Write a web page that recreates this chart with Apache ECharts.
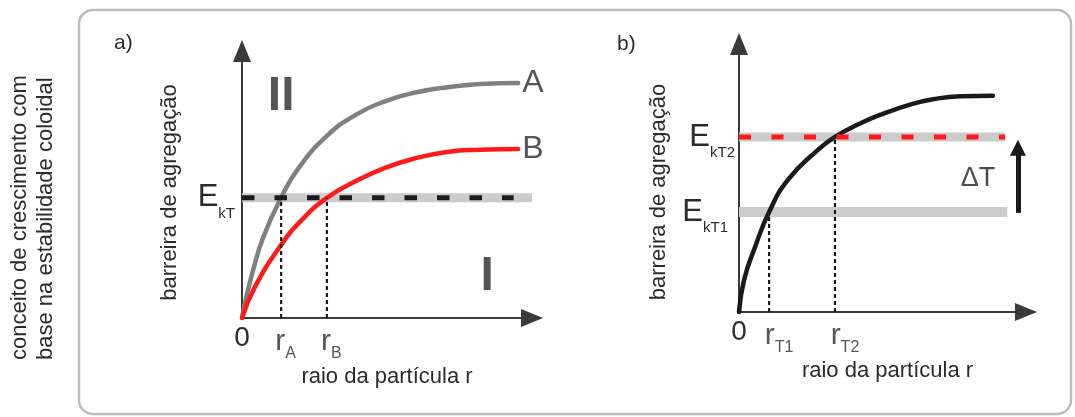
<!DOCTYPE html>
<html>
<head>
<meta charset="utf-8">
<script src="https://cdn.jsdelivr.net/npm/echarts@6/dist/echarts.min.js"></script>
<style>
html,body{margin:0;padding:0;background:#fff;}
#main{width:1075px;height:417px;}
</style>
</head>
<body>
<div id="main"></div>
<script>
// painel a) barreira x raio, curvas A e B
var curveA = [[0,0],[1,5.4],[3.65,17.0],[6.98,28.8],[12.96,43.2],[18.6,53.6],[28.2,65.5],[38.5,73.5],[47.5,77.9],[56.8,80.9],[68.1,83.0],[79.1,84.1],[91.7,84.5]];
var curveB = [[0,0],[4.3,11.2],[13,26.3],[19.9,35.3],[28.2,43.2],[38.5,49.6],[47.5,54.0],[56.8,57.2],[68.1,59.7],[79.1,60.5],[91.7,60.8]];
var eKT = 43.2;
var rA = 13, rB = 28.2;
var aRLabels = [[rA, 0, 'A'], [rB, 0, 'B']];
var aNotes = [[13, 79.5, 'II'], [81.4, 14.7, 'I']];
var aEnds = [[91.7, 84.5, 'A'], [91.7, 60.8, 'B']];

// painel b) uma curva, dois niveis de energia
var curveT = [[0,0],[1.7,11.5],[5.4,23.3],[10.1,35.8],[16.4,47.3],[26.2,57.8],[32.2,62.7],[40.6,67.5],[48.3,71.0],[57.4,74.3],[65.1,76.2],[74.2,77.3],[85.2,77.5]];
var eKT1 = 35.8, eKT2 = 62.7;
var rT1 = 10.1, rT2 = 32.2;
var bRLabels = [[rT1, 0, 'T1'], [rT2, 0, 'T2']];
var dT = [80.2, 47.7, '\u0394T'];
var dTArrow = [93.6, 35.5, 58.8];

var FONT = 'Liberation Sans, Arial, sans-serif';
var INK = '#2b2b2b';

var myChart = echarts.init(document.getElementById('main'));

function seg(xi, pts, color, width, type, z){
	return {
		type:'line', xAxisIndex:xi, yAxisIndex:xi, data:pts, symbol:'none', silent:true, z:z,
		lineStyle:{color:color, width:width, type:type||'solid', cap:'butt'}
	};
}
function curve(xi, pts, color){
	return {
		type:'line', xAxisIndex:xi, yAxisIndex:xi, data:pts, symbol:'none', smooth:0.5, silent:true, z:3,
		lineStyle:{color:color, width:4.5, cap:'round', join:'round'}
	};
}
function notes(xi, pts, size, pos, weight){
	return {
		type:'scatter', xAxisIndex:xi, yAxisIndex:xi, data:pts, symbolSize:0.01, silent:true, z:6,
		itemStyle:{color:'rgba(0,0,0,0)'},
		label:{show:true, position:pos, distance:4, color:INK, fontFamily:FONT, fontSize:size, fontWeight:weight||'normal',
			formatter:function(p){ return p.value[2]; }}
	};
}
function rLabels(xi, pts, pad){
	return {
		type:'scatter', xAxisIndex:xi, yAxisIndex:xi, data:pts, symbolSize:0.01, silent:true, z:6, clip:false,
		itemStyle:{color:'rgba(0,0,0,0)'},
		label:{show:true, position:'bottom', distance:7,
			formatter:function(p){ return '{r|r}{s|' + p.value[2] + '}'; },
			rich:{
				r:{fontSize:30, lineHeight:30, verticalAlign:'top', padding:[2,0,0,pad], fontFamily:FONT, color:INK},
				s:{fontSize:16, lineHeight:16, verticalAlign:'top', padding:[21,0,0,0], fontFamily:FONT, color:INK}
			}}
	};
}
function xAx(gi){
	return {
		gridIndex:gi, type:'value', min:0, max:96.3,
		name:'raio da partícula r', nameLocation:'middle', nameGap:48, nameMoveOverlap:false,
		nameTextStyle:{fontSize:22, color:INK, fontFamily:FONT, padding: gi ? [0,0,0,10] : 0},
		axisLine:{show:true, onZero:false, symbol:['none','triangle'], symbolSize:[18,22],
			lineStyle:{color:'#3a3a3a', width:2}},
		axisTick:{show:false}, splitLine:{show:false},
		axisLabel:{customValues:[0], formatter:'{z|0}', margin:6, showMinLabel:true,
			rich:{ z:{fontSize:28, lineHeight:28, verticalAlign:'top', fontFamily:FONT, color:INK} }}
	};
}
function yAx(gi, ticks, labels, gap, shift){
	return {
		gridIndex:gi, type:'value', min:0, max:96,
		name:'barreira de agregação', nameLocation:'middle', nameRotate:90, nameGap:gap, nameMoveOverlap:false,
		nameTextStyle:{fontSize:22, color:INK, fontFamily:FONT, padding:[0,shift,0,0]},
		axisLine:{show:true, onZero:false, symbol:['none','triangle'], symbolSize:[18,22],
			lineStyle:{color:'#3a3a3a', width:2}},
		axisTick:{show:false}, splitLine:{show:false},
		axisLabel:{customValues:ticks, margin:gi ? 4 : 7, showMinLabel:true, showMaxLabel:true,
			formatter:function(v){
				for(var i=0;i<ticks.length;i++){ if(Math.abs(ticks[i]-v)<0.01) return labels[i]; }
				return '';
			},
			rich:{
				e:{fontSize:31, lineHeight:31, verticalAlign:'top', fontFamily:FONT, color:INK},
				s:{fontSize:15, lineHeight:15, verticalAlign:'top', padding:[24,0,0,0], fontFamily:FONT, color:INK},
				s1:{fontSize:15, lineHeight:15, verticalAlign:'top', padding:[24,7,0,0], fontFamily:FONT, color:INK}
			}}
	};
}

option = {
	backgroundColor:'#fff',
	animation:false,
	grid:[
		{left:242, top:51, width:290, height:267, containLabel:false, outerBoundsMode:'none'},
		{left:739, top:44, width:287, height:268, containLabel:false, outerBoundsMode:'none'}
	],
	xAxis:[ xAx(0), xAx(1) ],
	yAxis:[
		yAx(0, [eKT], ['{e|E}{s|kT}'], 61, 16),
		yAx(1, [eKT1, eKT2], ['{e|E}{s1|kT1}', '{e|E}{s|kT2}'], 69, 28)
	],
	graphic:[
		{type:'rect', shape:{x:79, y:10, width:992, height:404, r:14}, silent:true,
			style:{fill:'none', stroke:'#bdbdbd', lineWidth:2.5}},
		{type:'text', x:19.5, y:360, rotation:Math.PI/2, silent:true,
			style:{text:'conceito de crescimento com', font:'22px '+FONT, fill:INK, align:'left', verticalAlign:'middle'}},
		{type:'text', x:45.5, y:360, rotation:Math.PI/2, silent:true,
			style:{text:'base na estabilidade coloidal', font:'22px '+FONT, fill:INK, align:'left', verticalAlign:'middle'}},
		{type:'text', x:114, y:43, silent:true,
			style:{text:'a)', font:'21px '+FONT, fill:INK, align:'left', verticalAlign:'middle'}},
		{type:'text', x:617, y:44, silent:true,
			style:{text:'b)', font:'21px '+FONT, fill:INK, align:'left', verticalAlign:'middle'}}
	],
	series:[
		// a)
		seg(0, [[0,eKT],[96.3,eKT]], '#cccccc', 9, 'solid', 1),
		curve(0, curveA, '#808080'),
		curve(0, curveB, '#ff1a1a'),
		seg(0, [[0,eKT],[90.2,eKT]], '#1a1a1a', 5, [12.5,20], 4),
		seg(0, [[rA,0],[rA,eKT]], '#1a1a1a', 2.2, [4,3], 4),
		seg(0, [[rB,0],[rB,eKT]], '#1a1a1a', 2.2, [4,3], 4),
		notes(0, aNotes, 48, 'inside', 'bold'),
		notes(0, aEnds, 32, 'right'),
		rLabels(0, aRLabels, 9),
		// b)
		seg(1, [[0,eKT2],[89.3,eKT2]], '#cccccc', 9, 'solid', 1),
		seg(1, [[0,eKT1],[90,eKT1]], '#cccccc', 10, 'solid', 1),
		curve(1, curveT, '#1a1a1a'),
		seg(1, [[0,eKT2],[89.3,eKT2]], '#ff1a1a', 5, [12,20.5], 4),
		seg(1, [[rT1,0],[rT1,eKT1]], '#1a1a1a', 2.2, [4,3], 4),
		seg(1, [[rT2,0],[rT2,eKT2]], '#1a1a1a', 2.2, [4,3], 4),
		rLabels(1, bRLabels, 20),
		{
			type:'scatter', xAxisIndex:1, yAxisIndex:1, data:[dT], symbolSize:0.01, silent:true, z:6,
			itemStyle:{color:'rgba(0,0,0,0)'},
			label:{show:true, position:'inside', color:'#1f1f1f', fontFamily:FONT, fontSize:27,
				formatter:function(p){ return p.value[2]; }},
			markLine:{
				silent:true, symbol:['none','triangle'], symbolSize:16, animation:false,
				label:{show:false},
				lineStyle:{color:'#1a1a1a', width:5, type:'solid'},
				data:[[{coord:[dTArrow[0], dTArrow[1]]}, {coord:[dTArrow[0], dTArrow[2]]}]]
			}
		}
	]
};
myChart.setOption(option);
</script>
</body>
</html>
